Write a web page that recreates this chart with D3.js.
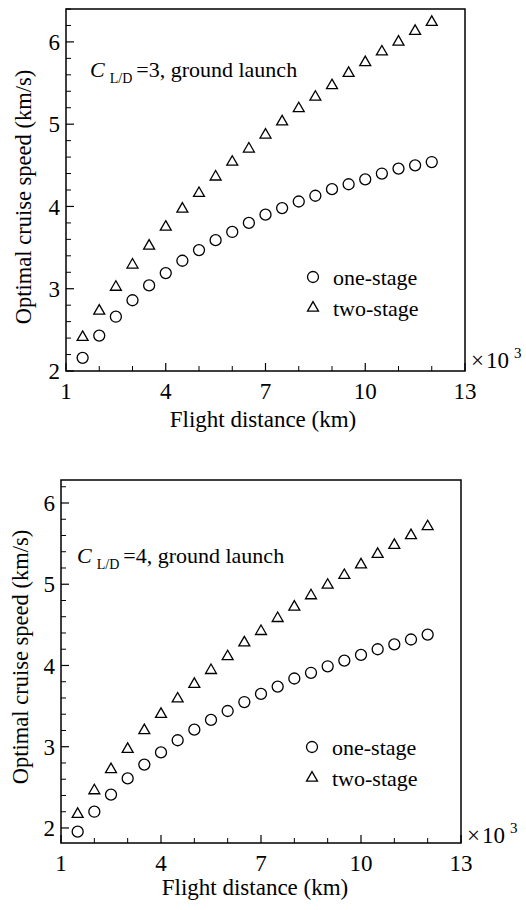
<!DOCTYPE html>
<html>
<head>
<meta charset="utf-8">
<script src="https://cdn.jsdelivr.net/npm/d3@7"></script>
</head>
<body style="margin:0">
<svg id="chart" width="526" height="910"></svg>
<script>
// flight distance (x10^3 km)
const distance = [1.5, 2, 2.5, 3, 3.5, 4, 4.5, 5, 5.5, 6, 6.5, 7, 7.5, 8, 8.5, 9, 9.5, 10, 10.5, 11, 11.5, 12];

// C_L/D = 3
const oneStage3 = [2.16, 2.43, 2.66, 2.86, 3.04, 3.19, 3.34, 3.47, 3.59, 3.69, 3.80, 3.90, 3.98, 4.06, 4.13, 4.21, 4.27, 4.33, 4.40, 4.46, 4.50, 4.54];
const twoStage3 = [2.41, 2.73, 3.02, 3.29, 3.52, 3.75, 3.97, 4.16, 4.36, 4.54, 4.70, 4.87, 5.03, 5.19, 5.33, 5.47, 5.62, 5.75, 5.88, 6.00, 6.13, 6.24];

// C_L/D = 4
const oneStage4 = [1.955, 2.20, 2.41, 2.61, 2.78, 2.93, 3.08, 3.21, 3.33, 3.44, 3.55, 3.65, 3.74, 3.84, 3.91, 3.99, 4.06, 4.13, 4.20, 4.26, 4.32, 4.38];
const twoStage4 = [2.17, 2.46, 2.72, 2.97, 3.20, 3.40, 3.59, 3.77, 3.94, 4.11, 4.28, 4.42, 4.58, 4.72, 4.86, 4.99, 5.11, 5.24, 5.37, 5.48, 5.60, 5.71];

const xTicks = [1, 4, 7, 10, 13];
const xMinor = [2, 3, 5, 6, 8, 9, 11, 12];
const yTicks = [2, 3, 4, 5, 6];
const legendNames = ["one-stage", "two-stage"];

const svg = d3.select("#chart");

const panels = [
  { left: 66, right: 465, top: 9, bottom: 371, yDomain: [2, 6.4],
    one: oneStage3, two: twoStage3, cld: "3",
    noteX: 90, noteY: 77, legX: 313, legY: 277,
    unitY: 368, xLabX: 263, xLabY: 427, yLabX: 31, yLabY: 197 },
  { left: 61, right: 461, top: 480, bottom: 843, yDomain: [1.815, 6.283],
    one: oneStage4, two: twoStage4, cld: "4",
    noteX: 77, noteY: 563, legX: 312, legY: 747,
    unitY: 843, xLabX: 255, xLabY: 895, yLabX: 28, yLabY: 657 }
];

const tri = d3.symbol(d3.symbolTriangle, 52);

// every label goes through here so the serif face is set on each one
function label(parent, size) {
  return parent.append("text")
    .style("font-family", "\"Liberation Serif\"")
    .attr("font-size", size);
}

panels.forEach(p => {
  const x = d3.scaleLinear().domain([1, 13]).range([p.left, p.right]);
  const y = d3.scaleLinear().domain(p.yDomain).range([p.bottom, p.top]);
  const g = svg.append("g");

  // inward ticks
  const yMinor = y.ticks(20).filter(v => Math.abs(v - Math.round(v)) > 1e-6);
  g.selectAll("line.ymaj").data(yTicks).join("line")
    .attr("x1", p.left).attr("x2", p.left + 8)
    .attr("y1", d => y(d)).attr("y2", d => y(d))
    .attr("stroke", "#000").attr("stroke-width", 1.2);
  g.selectAll("line.ymin").data(yMinor).join("line")
    .attr("x1", p.left).attr("x2", p.left + 5)
    .attr("y1", d => y(d)).attr("y2", d => y(d))
    .attr("stroke", "#000").attr("stroke-width", 1);
  g.selectAll("line.xmaj").data(xTicks).join("line")
    .attr("x1", d => x(d)).attr("x2", d => x(d))
    .attr("y1", p.bottom).attr("y2", p.bottom - 8)
    .attr("stroke", "#000").attr("stroke-width", 1.2);
  g.selectAll("line.xmin").data(xMinor).join("line")
    .attr("x1", d => x(d)).attr("x2", d => x(d))
    .attr("y1", p.bottom).attr("y2", p.bottom - 5)
    .attr("stroke", "#000").attr("stroke-width", 1);

  // frame
  g.append("rect")
    .attr("x", p.left).attr("y", p.top)
    .attr("width", p.right - p.left).attr("height", p.bottom - p.top)
    .attr("fill", "none").attr("stroke", "#000").attr("stroke-width", 1.5);

  // tick labels
  xTicks.forEach(t => {
    label(g, 23).attr("x", x(t)).attr("y", p.bottom + 28)
      .attr("text-anchor", "middle").text(t);
  });
  yTicks.forEach(t => {
    label(g, 23).attr("x", p.left - 6).attr("y", y(t)).attr("dy", "0.35em")
      .attr("text-anchor", "end").text(t);
  });

  // x10^3
  const unit = label(g, 23).attr("x", p.right + 6).attr("y", p.unitY);
  unit.append("tspan").text("\u00d7");
  unit.append("tspan").attr("dx", 2).text("10");
  unit.append("tspan").attr("dx", 5).attr("dy", -10).attr("font-size", 15).text("3");

  // axis titles
  label(g, 23).attr("x", p.xLabX).attr("y", p.xLabY)
    .attr("text-anchor", "middle")
    .text("Flight distance (km)");
  label(g, 22.5).attr("transform", `translate(${p.yLabX},${p.yLabY}) rotate(-90)`)
    .attr("text-anchor", "middle")
    .text("Optimal cruise speed (km/s)");

  // annotation
  const note = label(g, 22).attr("x", p.noteX).attr("y", p.noteY);
  note.append("tspan").attr("font-style", "italic").text("C");
  note.append("tspan").attr("dx", 5).attr("dy", 6).attr("font-size", 14).text("L/D");
  note.append("tspan").attr("dx", 4).attr("dy", -6).text(`=${p.cld}, ground launch`);

  // markers
  g.selectAll("circle.one").data(p.one).join("circle")
    .attr("cx", (d, i) => x(distance[i])).attr("cy", d => y(d))
    .attr("r", 5.5).attr("fill", "none").attr("stroke", "#000").attr("stroke-width", 1.3);
  g.selectAll("path.two").data(p.two).join("path")
    .attr("transform", (d, i) => `translate(${x(distance[i])},${y(d)})`)
    .attr("d", tri).attr("fill", "none").attr("stroke", "#000").attr("stroke-width", 1.3);

  // legend
  g.append("circle").attr("cx", p.legX).attr("cy", p.legY).attr("r", 5.5)
    .attr("fill", "none").attr("stroke", "#000").attr("stroke-width", 1.3);
  g.append("path").attr("transform", `translate(${p.legX},${p.legY + 31})`)
    .attr("d", tri).attr("fill", "none").attr("stroke", "#000").attr("stroke-width", 1.3);
  legendNames.forEach((name, i) => {
    label(g, 22).attr("x", p.legX + 20).attr("y", p.legY + i * 31)
      .attr("dy", "0.35em").text(name);
  });
});
</script>
</body>
</html>
